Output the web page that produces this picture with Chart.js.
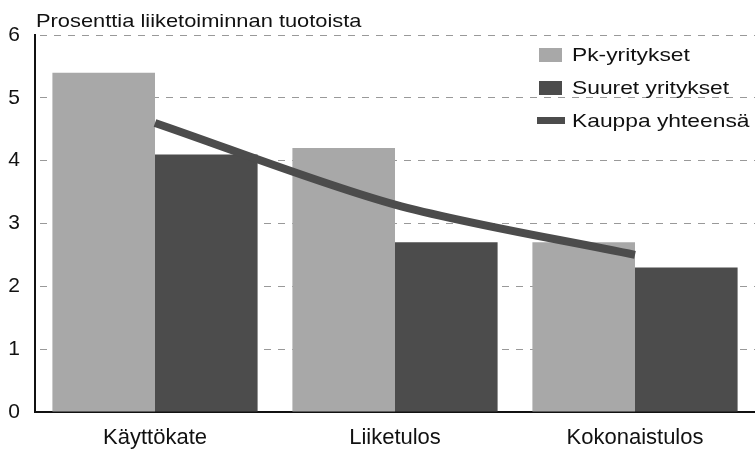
<!DOCTYPE html>
<html lang="fi">
<head>
  <meta charset="UTF-8">
  <title>Prosenttia liiketoiminnan tuotoista</title>
  <script src="https://cdn.jsdelivr.net/npm/chart.js"></script>
  <style>
    body { margin: 0; background: #fff; font-family: "Liberation Sans", Arial, sans-serif; }
    #wrap { position: relative; width: 755px; height: 449px; }
    #title { position: absolute; left: 36px; top: 11px; font-size: 19px; line-height: 20px; color: #111;
             transform: scaleX(1.15); transform-origin: left; white-space: nowrap; }
    #legend { position: absolute; left: 539px; top: 38px; font-size: 19px; color: #111; }
    .item { display: flex; align-items: center; height: 33px; white-space: nowrap; }
    .box { width: 23px; height: 14px; margin-right: 10px; }
    .ln { width: 28px; height: 7px; margin-left: -2px; margin-right: 7px; }
    .txt { display: inline-block; transform: scaleX(1.2); transform-origin: left; }
  </style>
</head>
<body>
  <div id="wrap">
    <canvas id="chart" width="755" height="449"></canvas>
    <div id="title">Prosenttia liiketoiminnan tuotoista</div>
    <div id="legend"></div>
  </div>
  <script>
    const categories = ['Käyttökate', 'Liiketulos', 'Kokonaistulos'];
    const pkYritykset = [5.4, 4.2, 2.7];
    const suuretYritykset = [4.1, 2.7, 2.3];
    const kauppaYhteensa = [4.6, 3.3, 2.5];
    const yTicks = [0, 1, 2, 3, 4, 5, 6];

    const light = '#a8a8a8', dark = '#4c4c4c';

    new Chart(document.getElementById('chart').getContext('2d'), {
      type: 'bar',
      data: {
        labels: categories,
        datasets: [
          { type: 'line', label: 'Kauppa yhteensä', data: kauppaYhteensa, borderColor: dark,
            borderWidth: 8, pointRadius: 0, tension: 0.3, order: 0, borderCapStyle: 'butt' },
          { label: 'Pk-yritykset', data: pkYritykset, backgroundColor: light, order: 1,
            categoryPercentage: 0.855, barPercentage: 1 },
          { label: 'Suuret yritykset', data: suuretYritykset, backgroundColor: dark, order: 1,
            categoryPercentage: 0.855, barPercentage: 1 }
        ]
      },
      options: {
        responsive: false,
        animation: false,
        layout: { padding: { top: 35, right: 0, left: 0, bottom: 0 } },
        plugins: { legend: { display: false }, tooltip: { enabled: false } },
        scales: {
          x: {
            grid: { display: false, drawTicks: false },
            border: { color: '#111', width: 2 },
            ticks: { color: '#111', font: { family: 'Liberation Sans', size: 22 }, padding: 13 },
            afterFit: s => { s.height = 37; }
          },
          y: {
            min: 0, max: 6,
            afterBuildTicks: s => { s.ticks = yTicks.map(v => ({ value: v })); },
            grid: { color: c => c.tick.value === 0 ? 'rgba(0,0,0,0)' : '#999', drawTicks: false, lineWidth: 1 },
            border: { color: '#111', width: 2, dash: [7, 7], dashOffset: -4 },
            ticks: { color: '#111', font: { family: 'Liberation Sans', size: 21 }, padding: 15 },
            afterFit: s => { s.width = 35; }
          }
        }
      }
    });

    // legend
    const items = [
      { label: 'Pk-yritykset', color: light, cls: 'box' },
      { label: 'Suuret yritykset', color: dark, cls: 'box' },
      { label: 'Kauppa yhteensä', color: dark, cls: 'ln' }
    ];
    document.getElementById('legend').innerHTML = items.map(i =>
      `<div class="item"><span class="${i.cls}" style="background:${i.color}"></span><span class="txt">${i.label}</span></div>`).join('');
  </script>
</body>
</html>
